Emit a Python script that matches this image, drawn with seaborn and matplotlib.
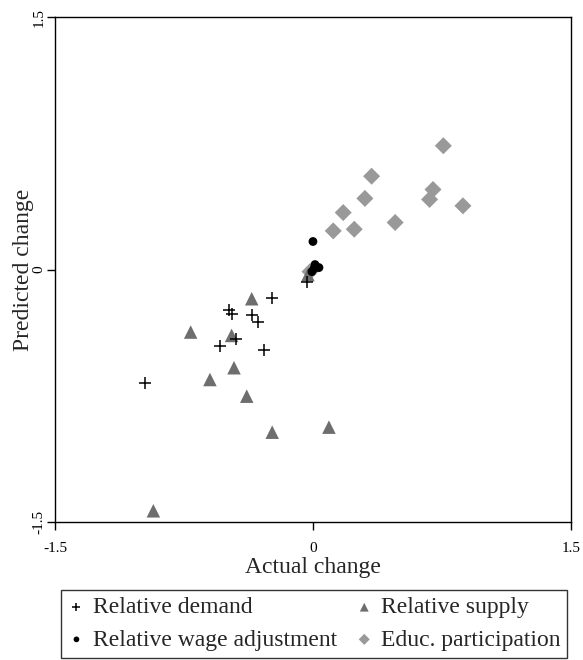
import pandas as pd
import seaborn as sns
import matplotlib.pyplot as plt

# values
demand_x = [-0.978, -0.488, -0.473, -0.355, -0.320, -0.237, -0.541, -0.449, -0.283, -0.033]
demand_y = [-0.674, -0.242, -0.262, -0.268, -0.311, -0.167, -0.452, -0.415, -0.476, -0.073]

supply_x = [-0.711, -0.356, -0.473, -0.459, -0.599, -0.385, -0.237, 0.093, -0.928, -0.029]
supply_y = [-0.371, -0.173, -0.391, -0.583, -0.653, -0.752, -0.966, -0.936, -1.433, -0.030]

wage_x = [0.0, 0.012, 0.035, 0.006, -0.006]
wage_y = [0.167, 0.030, 0.012, 0.006, -0.012]

educ_x = [0.758, 0.341, 0.698, 0.302, 0.678, 0.176, 0.872, 0.118, 0.240, 0.478, -0.017]
educ_y = [0.736, 0.555, 0.476, 0.423, 0.417, 0.339, 0.379, 0.230, 0.240, 0.280, -0.012]

ticks = [-1.5, 0, 1.5]
tick_labels = ['-1.5', '0', '1.5']

sns.set_style('ticks')
plt.rcParams['font.family'] = ['Liberation Serif', 'DejaVu Serif']

fig = plt.figure(figsize=(5.83, 6.60), dpi=100)
ax = fig.add_axes([0.0943, 0.209, 0.885, 0.765])

sns.scatterplot(x=educ_x, y=educ_y, ax=ax, marker='D', s=75, color='#999999',
                edgecolor='none', label='Educ. participation', zorder=2)
sns.scatterplot(x=supply_x, y=supply_y, ax=ax, marker='^', s=95, color='#6e6e6e',
                edgecolor='none', label='Relative supply', zorder=3)
sns.scatterplot(x=wage_x, y=wage_y, ax=ax, marker='o', s=40, color='black',
                edgecolor='none', label='Relative wage adjustment', zorder=4)
sns.scatterplot(x=demand_x, y=demand_y, ax=ax, marker='+', s=70, color='black',
                linewidth=1.1, label='Relative demand', zorder=5)

ax.set_xlim(-1.5, 1.5)
ax.set_ylim(-1.5, 1.5)
ax.set_xticks(ticks)
ax.set_xticklabels(tick_labels)
ax.set_yticks(ticks)
ax.set_yticklabels(tick_labels, rotation=90, va='center')
ax.tick_params(direction='out', length=6, width=1, labelsize=11, colors='black')
ax.tick_params(axis='x', pad=8)
ax.tick_params(axis='y', pad=1)
for sp in ax.spines.values():
    sp.set_visible(True)
    sp.set_color('black')
    sp.set_linewidth(1)
ax.set_xlabel('Actual change', fontsize=17, labelpad=2)
ax.set_ylabel('Predicted change', fontsize=17, labelpad=-1)

handles, labels = ax.get_legend_handles_labels()
order = ['Relative demand', 'Relative wage adjustment', 'Relative supply', 'Educ. participation']
hmap = dict(zip(labels, handles))
ax.get_legend().remove()
leg = fig.legend([hmap[k] for k in order], order, ncol=2, loc='lower center',
                 bbox_to_anchor=(0.539, 0.0), fontsize=17, frameon=True,
                 fancybox=False, edgecolor='black', handletextpad=0.35,
                 columnspacing=0.8, handlelength=0.7, borderpad=0.3,
                 labelspacing=0.45, markerscale=0.65, borderaxespad=0.1)
leg.get_frame().set_linewidth(1)

fig.savefig('out.png', dpi=100)
